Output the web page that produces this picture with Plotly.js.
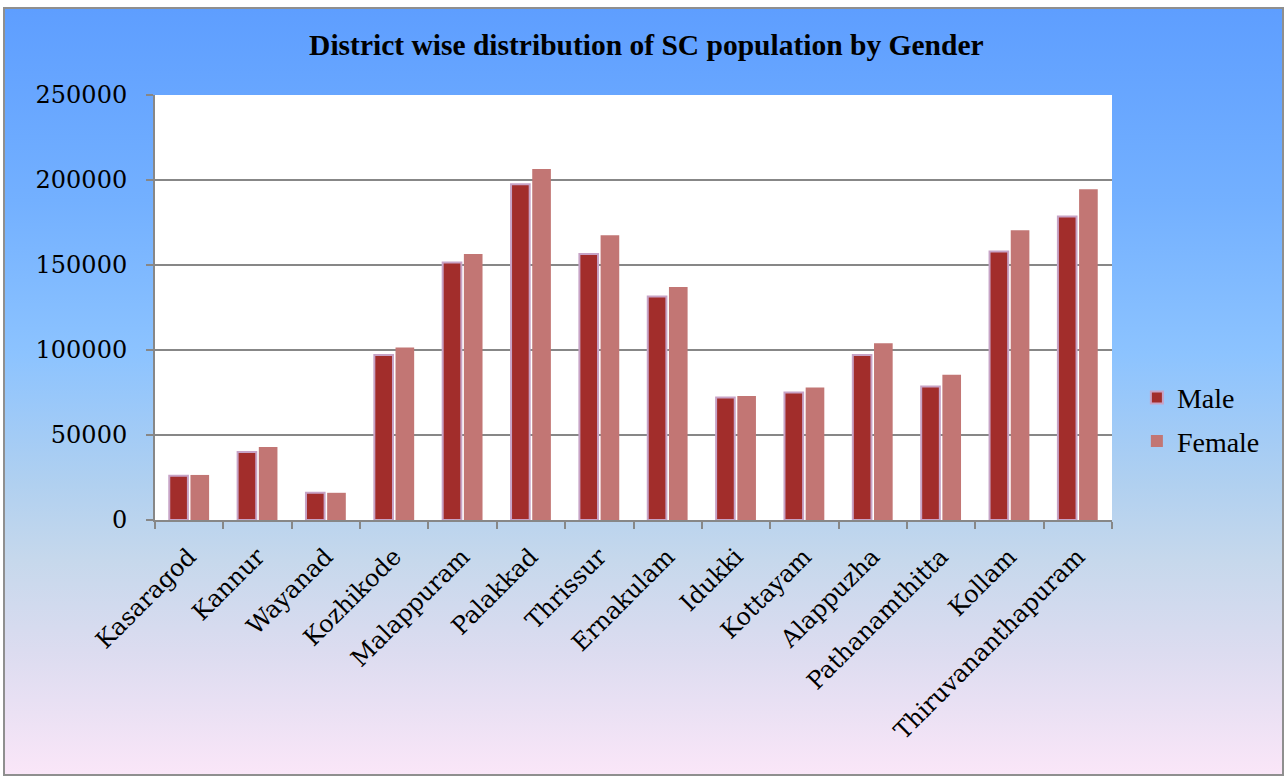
<!DOCTYPE html>
<html>
<head>
<meta charset="utf-8">
<script src="https://cdn.plot.ly/plotly-3.0.1.min.js"></script>
<style>
  html, body { margin: 0; padding: 0; width: 1285px; height: 776px; overflow: hidden; background: #ffffff; }
  #bg { position: absolute; left: 3px; top: 7px; width: 1277px; height: 765px;
        border: 2px solid #8f8f8f;
        background: linear-gradient(to bottom, #5e9eff 0%, #73b0ff 25%, #8cc3ff 45%, #b0d0f0 62%, #c6d8ec 72%, #dcdcf0 84%, #fae6f8 100%); }
  #chart { position: absolute; left: 0; top: 0; width: 1285px; height: 776px; }
</style>
</head>
<body>
<div id="bg"></div>
<div id="chart"></div>
<script>
const districts = ["Kasaragod", "Kannur", "Wayanad", "Kozhikode", "Malappuram", "Palakkad", "Thrissur",
  "Ernakulam", "Idukki", "Kottayam", "Alappuzha", "Pathanamthitta", "Kollam", "Thiruvananthapuram"];
const male   = [26000, 40000, 16000, 97000, 151500, 197500, 156500, 131500, 72000, 75000, 97000, 78500, 158000, 178500];
const female = [26500, 43000, 16000, 101500, 156500, 206500, 167500, 137000, 73000, 78000, 104000, 85500, 170500, 194500];
const seriesNames = ["Male", "Female"];
const yTicks = [0, 50000, 100000, 150000, 200000, 250000];

const traces = [
  { type: "bar", name: seriesNames[0], x: districts, y: male, legendgroup: "m",
    marker: { color: "#a22d2b", line: { color: "#c7a3c6", width: 2 } } },
  { type: "bar", name: seriesNames[1], x: districts, y: female, legendgroup: "f",
    marker: { color: "#c27674", line: { width: 0 } } }
];

const layout = {
  width: 1285, height: 776,
  paper_bgcolor: "rgba(0,0,0,0)",
  plot_bgcolor: "#ffffff",
  margin: { l: 155, r: 173, t: 95, b: 256, pad: 0 },
  title: { text: "District wise distribution of SC population by Gender",
           font: { family: "Liberation Serif", size: 29.5, color: "#000000", weight: "bold" },
           xref: "container", x: 0.503, xanchor: "center", yref: "container", y: 0.943, yanchor: "middle" },
  barmode: "group", bargap: 0.38, bargroupgap: 0.12,
  showlegend: true,
  legend: { x: 1.026, xanchor: "left", y: 0.237, yanchor: "middle", bgcolor: "rgba(0,0,0,0)",
            font: { family: "Liberation Serif", size: 28, color: "#000000" },
            traceorder: "grouped", tracegroupgap: 4, itemwidth: 30 },
  xaxis: { type: "category", tickangle: -45, showline: true, linecolor: "#878787", linewidth: 2,
           ticks: "outside", tickson: "boundaries", ticklen: 7, tickcolor: "#878787", tickwidth: 2,
           tickfont: { family: "DejaVu Serif", size: 24, color: "#000000" }, showgrid: false,
           ticklabelstandoff: 11 },
  yaxis: { range: [0, 250000], tickvals: yTicks, tickformat: "d", showline: true, linecolor: "#878787", linewidth: 2,
           ticks: "outside", ticklen: 7, tickcolor: "#878787", tickwidth: 2,
           showgrid: true, gridcolor: "#878787", gridwidth: 2, zeroline: false,
           tickfont: { family: "DejaVu Serif", size: 24, color: "#000000" }, ticklabelstandoff: 14 }
};

Plotly.newPlot("chart", traces, layout, { displayModeBar: false, staticPlot: true });
</script>
</body>
</html>
